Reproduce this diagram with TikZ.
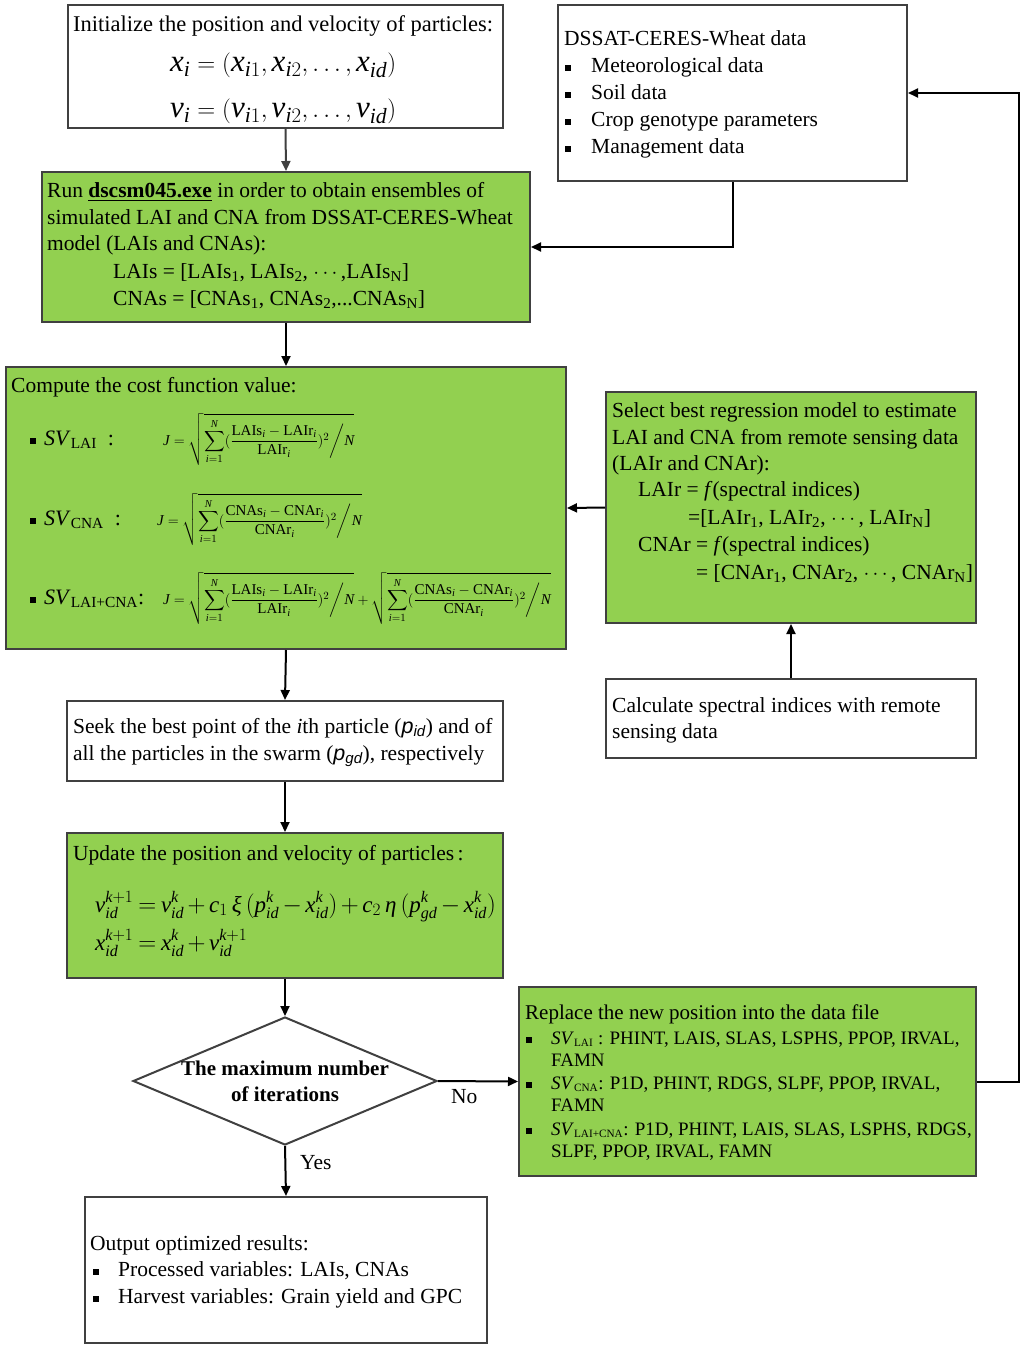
\documentclass[tikz,border=0pt]{standalone}
\usepackage{amsmath}
\usepackage{fontspec}
\setmainfont{Liberation Serif}
\newfontfamily\arialf{Liberation Sans}
\usetikzlibrary{shapes.geometric,arrows.meta}
\definecolor{grn}{HTML}{92D050}
\definecolor{bord}{HTML}{404040}
\newcommand\bul[1]{\makebox[#1pt][l]{\rule[1pt]{6pt}{6pt}}}
\newcommand\mi[1]{\text{\itshape #1}}
\newcommand\tightm{\medmuskip=2.5mu\relax\thickmuskip=3.5mu\relax}
\newcommand\cfn[1]{\sqrt{\sum\limits_{\mi{i}=1}^{\mi{N}}(\frac{\mathrm{#1s}_{\mi{i}}-\mathrm{#1r}_{\mi{i}}}{\mathrm{#1r}_{\mi{i}}})^{2}\bigg/\mi{N}}}
\tikzset{
 box/.style={draw=bord, line width=2pt, fill=white, inner sep=0, anchor=north west},
 gbox/.style={box, fill=grn},
 txt/.style={anchor=base west, inner sep=0, font=\fontsize{21.5}{27}\selectfont},
 stxt/.style={anchor=base west, inner sep=0, font=\fontsize{19}{23}\selectfont},
 ctxt/.style={anchor=base, inner sep=0, font=\fontsize{21}{27}\selectfont},
 fml/.style={anchor=base west, inner sep=0, font=\fontsize{15}{18}\selectfont},
 eqn/.style={inner sep=0, font=\fontsize{31}{32}\selectfont},
 ueqn/.style={inner sep=0, anchor=base west, font=\fontsize{23}{28}\selectfont},
 arr/.style={draw=black, line width=2pt, -{Triangle[length=10pt,width=9pt]}},
}
\begin{document}
\begin{tikzpicture}[x=1pt,y=-1pt]
\useasboundingbox[fill=white] (0,0) rectangle (1024,1349);
% boxes
\node[box, minimum width=435, minimum height=123] (init) at (67,4) {};
\node[box, minimum width=349, minimum height=176] (dssat) at (557,4) {};
\node[gbox, minimum width=488, minimum height=150] (run) at (41,171) {};
\node[gbox, minimum width=560, minimum height=282] (cost) at (5,366) {};
\node[gbox, minimum width=370, minimum height=231] (sel) at (605,391) {};
\node[box, minimum width=370, minimum height=79] (calc) at (605,678) {};
\node[box, minimum width=436, minimum height=80] (seek) at (66,700) {};
\node[gbox, minimum width=436, minimum height=145] (upd) at (66,832) {};
\node[diamond, draw=bord, line width=2pt, fill=white, minimum width=304, minimum height=128, shape aspect=2.375, inner sep=0] (dia) at (285,1081) {};
\node[gbox, minimum width=457, minimum height=189] (repl) at (518,986) {};
\node[box, minimum width=402, minimum height=146] (out) at (84,1196) {};
% init text
\node[txt, font=\fontsize{22.5}{27}\selectfont] (i1) at (73,31) {Initialize the position and velocity of particles:};
\node[eqn, anchor=base west] (i2) at (170,71) {$\mi{x}_{\mi{i}}=(\mi{x}_{\mi{i}1},\mi{x}_{\mi{i}2},\ldots,\mi{x}_{\mi{id}})$};
\node[eqn, anchor=base west] (i3) at (170,117) {$\mi{v}_{\mi{i}}=(\mi{v}_{\mi{i}1},\mi{v}_{\mi{i}2},\ldots,\mi{v}_{\mi{id}})$};
% dssat text
\node[txt] (d1) at (564,45) {DSSAT-CERES-Wheat data};
\node[txt] (d2) at (565,72) {\bul{26}Meteorological data};
\node[txt] (d3) at (565,99) {\bul{26}Soil data};
\node[txt] (d4) at (565,126) {\bul{26}Crop genotype parameters};
\node[txt] (d5) at (565,153) {\bul{26}Management data};
% run text
\node[txt] (r1) at (47,197) {Run \textbf{\underline{dscsm045.exe}} in order to obtain ensembles of};
\node[txt] (r2) at (47,224) {simulated LAI and CNA from DSSAT-CERES-Wheat};
\node[txt] (r3) at (47,250) {model (LAIs and CNAs):};
\node[txt] (r4) at (113,278) {LAIs = [LAIs\textsubscript{1}, LAIs\textsubscript{2}, $\cdots$,LAIs\textsubscript{N}]};
\node[txt] (r5) at (113,305) {CNAs = [CNAs\textsubscript{1}, CNAs\textsubscript{2},...CNAs\textsubscript{N}]};
% cost text
\node[txt] (c0) at (11,392) {Compute the cost function value:};
\node[txt, font=\fontsize{22}{27}\selectfont] (c1) at (30,445) {\bul{14}\textit{SV}\textsubscript{LAI} \ :};
\node[txt, font=\fontsize{22}{27}\selectfont] (c2) at (30,525) {\bul{14}\textit{SV}\textsubscript{CNA} \ :};
\node[txt, font=\fontsize{22}{27}\selectfont] (c3) at (30,604) {\bul{14}\textit{SV}\textsubscript{LAI+CNA}:};
\node[fml] (f1) at (163,445) {$\displaystyle \mi{J}=\cfn{LAI}$};
\node[fml] (f2) at (157,525) {$\displaystyle \mi{J}=\cfn{CNA}$};
\node[fml] (f3) at (163,604) {$\displaystyle \mi{J}=\cfn{LAI}+\cfn{CNA}$};
% select text
\node[txt] (s1) at (612,417) {Select best regression model to estimate};
\node[txt] (s2) at (612,444) {LAI and CNA from remote sensing data};
\node[txt] (s3) at (612,470) {(LAIr and CNAr):};
\node[txt] (s4) at (638,496) {LAIr = \textit{f}(spectral indices)};
\node[txt] (s5) at (688,524) {=[LAIr\textsubscript{1}, LAIr\textsubscript{2}, $\cdots$, LAIr\textsubscript{N}]};
\node[txt] (s6) at (638,551) {CNAr = \textit{f}(spectral indices)};
\node[txt] (s7) at (696,579) {= [CNAr\textsubscript{1}, CNAr\textsubscript{2}, $\cdots$, CNAr\textsubscript{N}]};
% calc text
\node[txt] (k1) at (612,712) {Calculate spectral indices with remote};
\node[txt] (k2) at (612,738) {sensing data};
% seek text
\node[txt] (e1) at (73,733) {Seek the best point of the \textit{i}th particle ({\arialf\itshape p\textsubscript{id}}) and of};
\node[txt] (e2) at (73,760) {all the particles in the swarm ({\arialf\itshape p\textsubscript{gd}}), respectively};
% update text
\node[txt] (u0) at (73,860) {Update the position and velocity of particles\,:};
\node[ueqn] (u1) at (95,912) {$\tightm\mi{v}_{\mi{id}}^{\mi{k}+1}=\mi{v}_{\mi{id}}^{\mi{k}}+\mi{c}_{1}\,\mi{ξ}\,(\mi{p}_{\mi{id}}^{\mi{k}}-\mi{x}_{\mi{id}}^{\mi{k}})+\mi{c}_{2}\,\mi{η}\,(\mi{p}_{\mi{gd}}^{\mi{k}}-\mi{x}_{\mi{id}}^{\mi{k}})$};
\node[ueqn] (u2) at (95,950) {$\tightm\mi{x}_{\mi{id}}^{\mi{k}+1}=\mi{x}_{\mi{id}}^{\mi{k}}+\mi{v}_{\mi{id}}^{\mi{k}+1}$};
% diamond text
\node[ctxt] (m1) at (285,1075) {\textbf{The maximum number}};
\node[ctxt] (m2) at (285,1101) {\textbf{of iterations}};
% replace text
\node[stxt, font=\fontsize{21}{23}\selectfont] (p0) at (525,1019) {Replace the new position into the data file};
\node[stxt] (p1) at (526,1044) {\bul{25}\textit{SV}{\fontsize{16}{16}\selectfont\textsubscript{LAI}} : PHINT, LAIS, SLAS, LSPHS, PPOP, IRVAL,};
\node[stxt] (p2) at (551,1066) {FAMN};
\node[stxt] (p3) at (526,1089) {\bul{25}\textit{SV}{\fontsize{16}{16}\selectfont\textsubscript{CNA}}: P1D, PHINT, RDGS, SLPF, PPOP, IRVAL,};
\node[stxt] (p4) at (551,1111) {FAMN};
\node[stxt] (p5) at (526,1135) {\bul{25}\textit{SV}{\fontsize{16}{16}\selectfont\textsubscript{LAI+CNA}}: P1D, PHINT, LAIS, SLAS, LSPHS, RDGS,};
\node[stxt] (p6) at (551,1157) {SLPF, PPOP, IRVAL, FAMN};
% output text
\node[txt] (o0) at (90,1250) {Output optimized results:};
\node[txt] (o1) at (93,1276) {\bul{25}Processed variables: LAIs, CNAs};
\node[txt] (o2) at (93,1303) {\bul{25}Harvest variables: Grain yield and GPC};
% labels
\node[txt] (no) at (451,1103) {No};
\node[txt] (yes) at (300,1169) {Yes};
% connectors
\coordinate (rr) at (1019,1081);
\draw[arr, draw=bord] (init.south) -- (run.north);
\draw[arr] (dssat.south) |- (run.east);
\draw[arr] (run.south) -- (cost.north);
\draw[arr] (sel.west) -- (cost.east);
\draw[arr] (calc.north) -- (sel.south);
\draw[arr] (cost.south) -- (seek.north);
\draw[arr] (seek.south) -- (upd.north);
\draw[arr] (upd.south) -- (dia.north);
\draw[arr] (dia.east) -- (repl.west);
\draw[arr] (dia.south) -- (out.north);
\draw[arr] (repl.east) -- (repl.east -| rr) |- (dssat.east);
\end{tikzpicture}
\end{document}
